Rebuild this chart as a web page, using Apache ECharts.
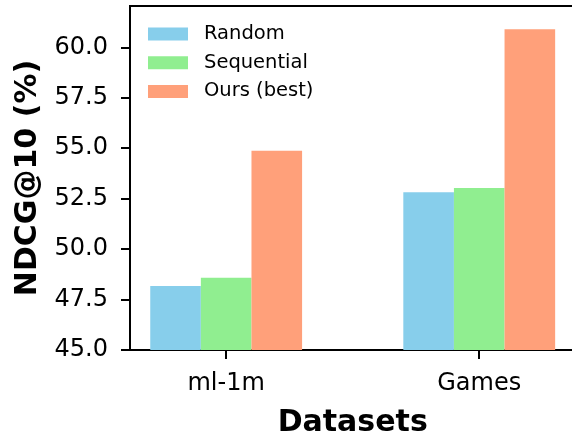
<!DOCTYPE html>
<html>
<head>
<meta charset="utf-8">
<script src="https://cdn.jsdelivr.net/npm/echarts@6/dist/echarts.min.js"></script>
<style>html,body{margin:0;padding:0;background:#fff}#c{width:572px;height:433px}</style>
</head>
<body>
<div id="c"></div>
<script>
const categories = ['ml-1m', 'Games'];
const seriesNames = ['Random', 'Sequential', 'Ours (best)'];
const randomVals = [48.17, 52.82];
const sequentialVals = [48.58, 53.03];
const oursVals = [54.87, 60.9];
const yTicks = [45, 47.5, 50, 52.5, 55, 57.5, 60];
const colors = ['#87CEEB', '#90EE90', '#FFA07A'];

const FONT = 'DejaVu Sans';
const chart = echarts.init(document.getElementById('c'), null, {renderer: 'canvas'});
const allVals = [randomVals, sequentialVals, oursVals];

chart.setOption({
  animation: false,
  backgroundColor: '#fff',
  grid: {left: 130, top: 6, right: -3.4, bottom: 83, outerBoundsMode: 'none', containLabel: false,
    show: true, borderColor: '#000', borderWidth: 2, backgroundColor: 'transparent'},
  legend: {
    left: 143, top: 19, orient: 'vertical',
    icon: 'rect', itemWidth: 40, itemHeight: 13, itemGap: 8.7,
    textStyle: {fontFamily: FONT, fontSize: 19.5, color: '#000', lineHeight: 20, padding: [0, 0, 0, 11]},
    data: seriesNames
  },
  xAxis: {
    type: 'value', min: -0.38, max: 1.38,
    name: 'Datasets', nameLocation: 'middle', nameGap: 73,
    nameTextStyle: {fontFamily: FONT, fontSize: 30, fontWeight: 'bold', color: '#000', verticalAlign: 'middle'},
    axisLine: {onZero: false, lineStyle: {color: '#000', width: 2}},
    axisTick: {show: true, length: 9, lineStyle: {color: '#000', width: 2}, customValues: [0, 1]},
    axisLabel: {customValues: [0, 1], margin: 22, fontFamily: FONT, fontSize: 24, color: '#000',
      formatter: v => categories[Math.round(v)] || ''},
    splitLine: {show: false}
  },
  yAxis: {
    type: 'value', min: 45, max: 62.05,
    name: 'NDCG@10 (%)', nameLocation: 'middle', nameGap: 101,
    nameTextStyle: {fontFamily: FONT, fontSize: 30, fontWeight: 'bold', color: '#000', verticalAlign: 'middle'},
    axisLine: {show: true, onZero: false, lineStyle: {color: '#000', width: 2}},
    axisTick: {show: true, length: 9, lineStyle: {color: '#000', width: 2}, customValues: yTicks},
    axisLabel: {customValues: yTicks, margin: 22, fontFamily: FONT, fontSize: 24, color: '#000',
      formatter: v => Number(v).toFixed(1)},
    splitLine: {show: false}
  },
  series: seriesNames.map((name, i) => ({
    name: name, type: 'bar', barWidth: '20%', barGap: '0%',
    itemStyle: {color: colors[i]},
    data: allVals[i].map((v, j) => [j, v])
  }))
});
</script>
</body>
</html>
